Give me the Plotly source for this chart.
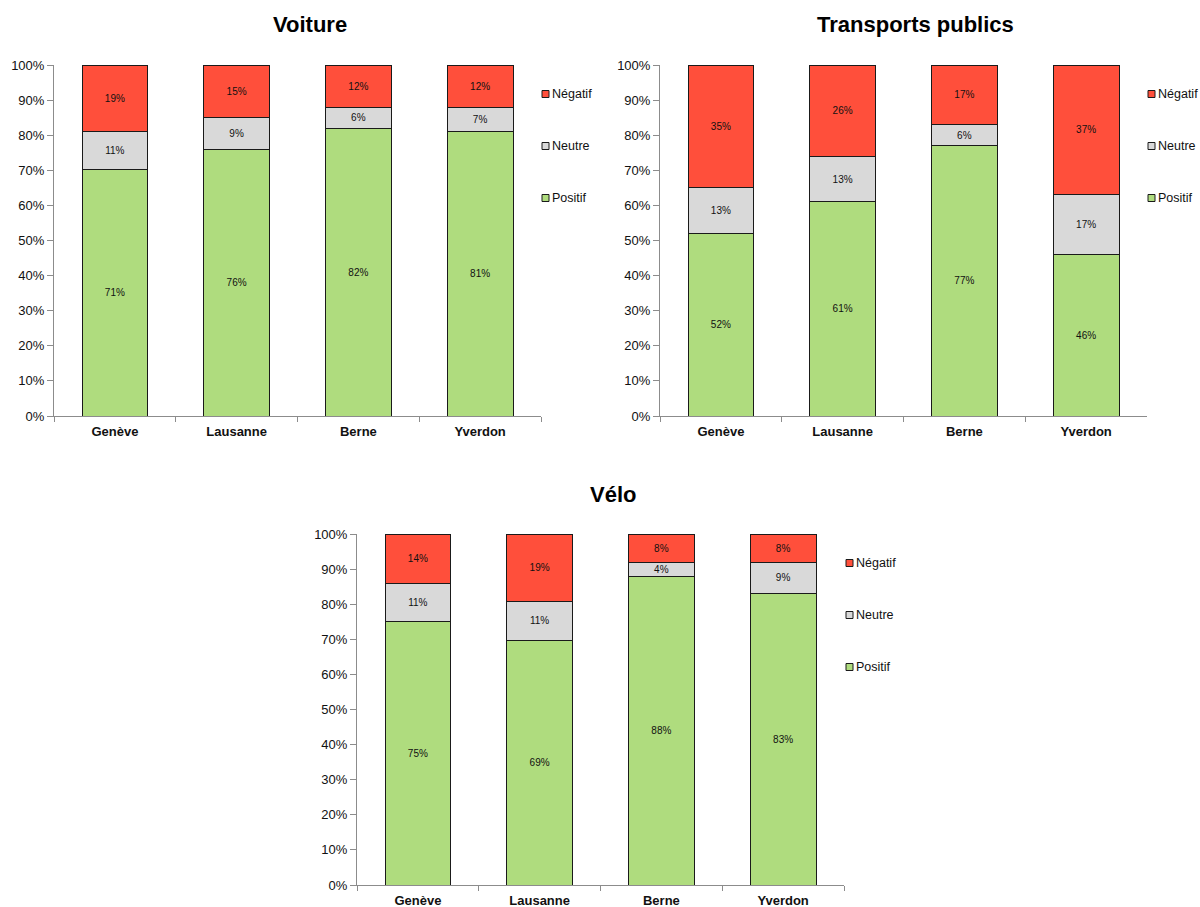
import plotly.graph_objects as go

# Catégories (villes) et parts des réponses par mode de transport
villes = ["Genève", "Lausanne", "Berne", "Yverdon"]

voiture_positif = [71, 76, 82, 81]
voiture_neutre = [11, 9, 6, 7]
voiture_negatif = [19, 15, 12, 12]

tp_positif = [52, 61, 77, 46]
tp_neutre = [13, 13, 6, 17]
tp_negatif = [35, 26, 17, 37]

velo_positif = [75, 69, 88, 83]
velo_neutre = [11, 11, 4, 9]
velo_negatif = [14, 19, 8, 8]

y_ticks = [0, 10, 20, 30, 40, 50, 60, 70, 80, 90, 100]
y_labels = [f"{v}%" for v in y_ticks]

COLORS = {"Positif": "#AFDC7E", "Neutre": "#D9D9D9", "Négatif": "#FF4F3B"}
LEGEND_ORDER = ["Négatif", "Neutre", "Positif"]
FONT = "Liberation Sans, Arial, sans-serif"

W, H = 1200, 907


def px_x(p):
    return p / W


def px_y(p):
    return 1 - p / H


panels = [
    dict(title="Voiture", data=[("Positif", voiture_positif), ("Neutre", voiture_neutre), ("Négatif", voiture_negatif)],
         x0=54, x1=541, ytop=65, ybot=416, leg_x=542, leg_y=94),
    dict(title="Transports publics", data=[("Positif", tp_positif), ("Neutre", tp_neutre), ("Négatif", tp_negatif)],
         x0=660, x1=1147, ytop=65, ybot=416, leg_x=1148, leg_y=94),
    dict(title="Vélo", data=[("Positif", velo_positif), ("Neutre", velo_neutre), ("Négatif", velo_negatif)],
         x0=357, x1=844, ytop=534, ybot=885, leg_x=846, leg_y=563),
]

fig = go.Figure()
layout_updates = {}
annotations = []
shapes = []

for i, p in enumerate(panels, start=1):
    sfx = "" if i == 1 else str(i)
    for name, vals in p["data"]:
        fig.add_trace(go.Bar(
            x=villes, y=vals, name=name,
            xaxis=f"x{sfx}", yaxis=f"y{sfx}",
            showlegend=False,
            marker=dict(color=COLORS[name], line=dict(color="#1a1a1a", width=1)),
            width=0.54,
            text=[f"{v}%" for v in vals],
            textposition="inside", insidetextanchor="middle",
            textfont=dict(size=10, color="#111", family=FONT),
            insidetextfont=dict(size=10, color="#111", family=FONT),
            constraintext="none",
            hovertemplate="%{x}: %{text}<extra>" + name + "</extra>",
        ))

    layout_updates[f"xaxis{sfx}"] = dict(
        domain=[px_x(p["x0"]), px_x(p["x1"])],
        anchor=f"y{sfx}", type="category",
        range=[-0.5, 3.5],
        showline=True, linecolor="#8c8c8c", linewidth=1,
        ticks="outside", tickson="boundaries", ticklen=5, tickcolor="#8c8c8c",
        ticklabelstandoff=3,
        tickfont=dict(size=13, color="#111", family=FONT, weight="bold"),
        showgrid=False, zeroline=False, fixedrange=True, automargin=False,
    )
    layout_updates[f"yaxis{sfx}"] = dict(
        domain=[px_y(p["ybot"]), px_y(p["ytop"])],
        anchor=f"x{sfx}",
        range=[0, 100], tickmode="array", tickvals=y_ticks, ticktext=y_labels,
        showline=True, linecolor="#8c8c8c", linewidth=1,
        ticks="outside", ticklen=6, tickcolor="#8c8c8c",
        tickfont=dict(size=13, color="#111", family=FONT),
        showgrid=False, zeroline=False, fixedrange=True, automargin=False,
    )

    # Légende : carré coloré + libellé, une entrée toutes les 52 px
    for k, name in enumerate(LEGEND_ORDER):
        cy = p["leg_y"] + 52 * k
        shapes.append(dict(
            type="rect", xref="paper", yref="paper",
            x0=px_x(p["leg_x"]), x1=px_x(p["leg_x"] + 7),
            y0=px_y(cy + 3.5), y1=px_y(cy - 3.5),
            fillcolor=COLORS[name], line=dict(color="#1a1a1a", width=1),
        ))
        annotations.append(dict(
            text=name, showarrow=False, xref="paper", yref="paper",
            x=px_x(p["leg_x"] + 8), y=px_y(cy),
            xanchor="left", yanchor="middle",
            font=dict(size=12.5, color="#111", family=FONT),
        ))

    annotations.append(dict(
        text=f"<b>{p['title']}</b>", showarrow=False,
        xref="paper", yref="paper",
        x=px_x((p["x0"] + p["x1"]) / 2 + 12), y=px_y(p["ytop"] - 40),
        xanchor="center", yanchor="middle",
        font=dict(size=22, color="#000", family=FONT),
    ))

fig.update_layout(
    width=W, height=H,
    margin=dict(l=0, r=0, t=0, b=0, autoexpand=False),
    paper_bgcolor="white", plot_bgcolor="white",
    barmode="stack", barnorm="percent",
    showlegend=False,
    annotations=annotations,
    shapes=shapes,
    font=dict(family=FONT),
    **layout_updates,
)

fig.write_html("out.html")
